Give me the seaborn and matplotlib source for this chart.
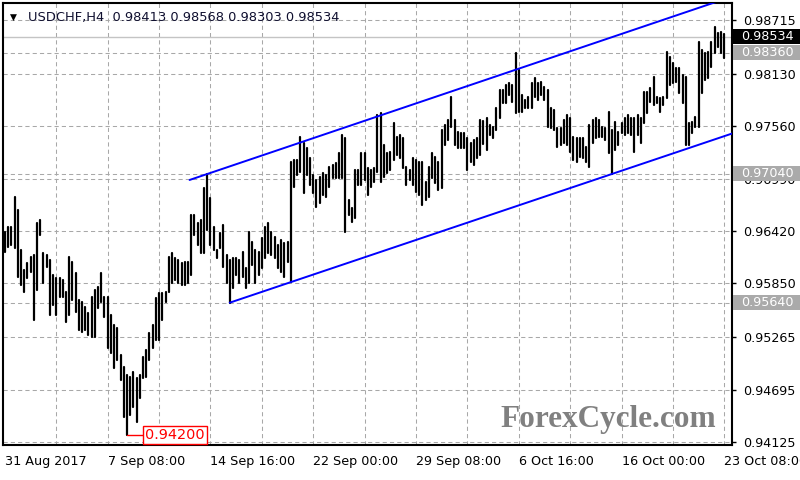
import numpy as np
import pandas as pd
import matplotlib
matplotlib.use("Agg")
import matplotlib.pyplot as plt
import matplotlib.transforms as mtransforms
from matplotlib.patches import Rectangle
import seaborn as sns

# USDCHF H4 bars (31 Aug 2017 00:00 -> 23 Oct 08:00), highs and lows
highs = [
    0.96413, 0.96467, 0.96467, 0.96794, 0.96649, 0.96213, 0.95996, 0.96068, 0.96141, 0.96159,
    0.96503, 0.96540, 0.96177, 0.96159, 0.96105, 0.95942, 0.95905, 0.95905, 0.95887, 0.95760,
    0.96141, 0.96087, 0.95960, 0.95670, 0.95652, 0.95597, 0.95524, 0.95706, 0.95778, 0.95815,
    0.95960, 0.95706, 0.95706, 0.95506, 0.95398, 0.95361, 0.95071, 0.94944, 0.94854, 0.94836,
    0.94890, 0.94817, 0.94854, 0.95053, 0.95126, 0.95307, 0.95398, 0.95688, 0.95742, 0.95742,
    0.95760, 0.96141, 0.96177, 0.96123, 0.96105, 0.96068, 0.96087, 0.96087, 0.96594, 0.96594,
    0.96503, 0.96540, 0.96884, 0.97040, 0.96775, 0.96467, 0.96213, 0.96395, 0.96485, 0.96159,
    0.96105, 0.96123, 0.96123, 0.96105, 0.96195, 0.96013, 0.96412, 0.96303, 0.96213, 0.96195,
    0.96340, 0.96467, 0.96503, 0.96412, 0.96358, 0.96267, 0.96322, 0.96285, 0.96303, 0.97174,
    0.97192, 0.97192, 0.97446, 0.97373, 0.97319, 0.97210, 0.97029, 0.96974, 0.97010, 0.97047,
    0.97029, 0.97119, 0.97137, 0.97155, 0.97264, 0.97464, 0.97427, 0.96757, 0.96666, 0.97083,
    0.97083, 0.97264, 0.97264, 0.97101, 0.97083, 0.97101, 0.97681, 0.97699, 0.97355, 0.97264,
    0.97282, 0.97591, 0.97446, 0.97464, 0.97427, 0.97119, 0.97083, 0.97210, 0.97192, 0.97174,
    0.97174, 0.96956, 0.97119, 0.97264, 0.97228, 0.97174, 0.97518, 0.97572, 0.97627, 0.97878,
    0.97627, 0.97500, 0.97482, 0.97482, 0.97427, 0.97373, 0.97409, 0.97427, 0.97627, 0.97620,
    0.97645, 0.97573, 0.97555, 0.97754, 0.97954, 0.97954, 0.98008, 0.98026, 0.98008, 0.98360,
    0.98171, 0.97899, 0.97845, 0.97881, 0.98026, 0.98080, 0.98026, 0.98044, 0.97990, 0.97954,
    0.97754, 0.97736, 0.97537, 0.97537, 0.97627, 0.97682, 0.97645, 0.97446, 0.97428, 0.97428,
    0.97428, 0.97337, 0.97573, 0.97627, 0.97645, 0.97627, 0.97555, 0.97537, 0.97718, 0.97519,
    0.97609, 0.97500, 0.97591, 0.97645, 0.97682, 0.97645, 0.97645, 0.97682, 0.97645, 0.97935,
    0.97935, 0.97972, 0.98099, 0.97881, 0.97863, 0.97881, 0.98371, 0.98316, 0.98244, 0.98189,
    0.98189, 0.98117, 0.98099, 0.97591, 0.97609, 0.97664, 0.98479, 0.98389, 0.98352, 0.98371,
    0.98479, 0.98642, 0.98570, 0.98588, 0.98568,
]
lows = [
    0.96188, 0.96250, 0.96268, 0.96232, 0.95923, 0.95833, 0.95760, 0.95905, 0.95978, 0.95452,
    0.95778, 0.96377, 0.95851, 0.96032, 0.95506, 0.95615, 0.95506, 0.95706, 0.95706, 0.95434,
    0.95506, 0.95670, 0.95543, 0.95343, 0.95325, 0.95343, 0.95289, 0.95271, 0.95271, 0.95579,
    0.95652, 0.95488, 0.95144, 0.95090, 0.94926, 0.95017, 0.94799, 0.94401, 0.94200, 0.94419,
    0.94509, 0.94346, 0.94600, 0.94817, 0.94836, 0.95017, 0.95144, 0.95235, 0.95235, 0.95452,
    0.95652, 0.95760, 0.95851, 0.95887, 0.95851, 0.95833, 0.95833, 0.95851, 0.95942, 0.96377,
    0.96268, 0.96177, 0.96177, 0.96431, 0.96268, 0.96213, 0.96123, 0.96232, 0.96032, 0.95851,
    0.95640, 0.95797, 0.95942, 0.95851, 0.95923, 0.95796, 0.95850, 0.96050, 0.95850, 0.95941,
    0.96013, 0.96122, 0.96177, 0.96158, 0.96122, 0.96013, 0.95977, 0.95923, 0.96086, 0.95868,
    0.96902, 0.97029, 0.97065, 0.96829, 0.97029, 0.96920, 0.96829, 0.96684, 0.96720, 0.96811,
    0.96793, 0.96902, 0.96992, 0.96992, 0.96992, 0.96992, 0.96412, 0.96594, 0.96521, 0.96557,
    0.96920, 0.96920, 0.96974, 0.96811, 0.96902, 0.96956, 0.97065, 0.96956, 0.97010, 0.97047,
    0.97083, 0.97192, 0.97246, 0.97210, 0.97101, 0.96920, 0.96974, 0.96920, 0.96847, 0.96811,
    0.96702, 0.96757, 0.96793, 0.96992, 0.96938, 0.96865, 0.96884, 0.97355, 0.97409, 0.97554,
    0.97355, 0.97319, 0.97319, 0.97319, 0.97083, 0.97174, 0.97137, 0.97210, 0.97250, 0.97370,
    0.97301, 0.97464, 0.97428, 0.97519, 0.97645, 0.97809, 0.97809, 0.97899, 0.97827, 0.97700,
    0.97718, 0.97718, 0.97754, 0.97754, 0.97754, 0.97881, 0.97845, 0.97899, 0.97845, 0.97555,
    0.97537, 0.97519, 0.97337, 0.97355, 0.97373, 0.97355, 0.97283, 0.97192, 0.97174, 0.97228,
    0.97210, 0.97174, 0.97120, 0.97373, 0.97428, 0.97446, 0.97446, 0.97410, 0.97265, 0.97040,
    0.97301, 0.97355, 0.97482, 0.97464, 0.97482, 0.97464, 0.97283, 0.97464, 0.97373, 0.97591,
    0.97700, 0.97827, 0.97790, 0.97809, 0.97718, 0.97790, 0.97863, 0.98008, 0.98026, 0.98044,
    0.97917, 0.97809, 0.97355, 0.97355, 0.97482, 0.97555, 0.97555, 0.97917, 0.98062, 0.98080,
    0.98207, 0.98352, 0.98425, 0.98352, 0.98303,
]

last_ohlc = [0.98413, 0.98568, 0.98303, 0.98534]
date_labels = ["31 Aug 2017", "7 Sep 08:00", "14 Sep 16:00", "22 Sep 00:00",
               "29 Sep 08:00", "6 Oct 16:00", "16 Oct 00:00", "23 Oct 08:00"]
date_bars = [0, 32, 64, 96, 128, 160, 192, 224]
price_ticks = [0.98715, 0.98130, 0.97560, 0.96990, 0.96420, 0.95850, 0.95265, 0.94695, 0.94125]
levels = [0.98360, 0.97040, 0.95640]
low_price = 0.94200
low_bar = 38
# channel lines: start bar and two anchor points (bar, price)
upper_start = 57.5
upper_bars = [63, 148]
upper_prices = [0.97040, 0.98044]
lower_bars = [70, 189]
lower_prices = [0.95640, 0.97040]

n = len(highs)
bars = pd.DataFrame({"bar": list(range(n)) * 2, "price": highs + lows})

sns.set_theme(style="white")
plt.rcParams["font.family"] = ["DejaVu Sans"]

fig = plt.figure(figsize=(8, 4.8), dpi=100)
ax = fig.add_axes([3 / 800, 35 / 480, 728.7 / 800, 442 / 480])

x_lo, x_hi = -0.6, 226.3
y_lo, y_hi = 0.94092, 0.98900

grid_kw = dict(color="#a8a8a8", lw=0.75, ls=(0, (4, 3)), zorder=1)
for p in price_ticks:
    ax.axhline(p, **grid_kw)
for b in range(16, 225, 16):
    ax.axvline(b, **grid_kw)
for p in levels:
    ax.axhline(p, **grid_kw)
ax.axhline(last_ohlc[3], color="#c4c4c4", lw=1, zorder=1)

ax.text(0.682, 0.057, "ForexCycle.com", transform=ax.transAxes, fontsize=22.5,
        family="Liberation Serif", weight="bold", color="#808080", va="center", zorder=1.5)

# each bar is a high-low segment
sns.lineplot(data=bars, x="bar", y="price", units="bar", estimator=None,
             color="black", lw=1.6, ax=ax, legend=False, zorder=3)

# channel
slope_u = (upper_prices[1] - upper_prices[0]) / (upper_bars[1] - upper_bars[0])
slope_l = (lower_prices[1] - lower_prices[0]) / (lower_bars[1] - lower_bars[0])
ux = np.array([upper_start, x_hi + 5])
lx = np.array([lower_bars[0], x_hi + 5])
ax.plot(ux, upper_prices[0] + slope_u * (ux - upper_bars[0]), color="#0000ff", lw=1.4, zorder=4)
ax.plot(lx, lower_prices[0] + slope_l * (lx - lower_bars[0]), color="#0000ff", lw=1.4, zorder=4)

# low marker
ax.plot([low_bar, low_bar + 5.3], [low_price, low_price], color="red", lw=1, zorder=4)
ax.text(low_bar + 5.6, low_price, f"{low_price:.5f}", color="red", fontsize=10.4,
        va="center", ha="left", zorder=5,
        bbox=dict(boxstyle="square,pad=0.15", fc="white", ec="red", lw=1))

ax.set_xlabel("")
ax.set_ylabel("")
ax.set_xticks(date_bars)
ax.set_xticklabels(date_labels, ha="left", fontsize=9.2)
ax.yaxis.tick_right()
ax.set_yticks(price_ticks)
ax.set_yticklabels([f"{p:.5f}" for p in price_ticks], fontsize=9.2)
ax.tick_params(axis="both", direction="out", length=3, width=1, color="black",
               labelcolor="black")
ax.tick_params(axis="x", pad=4)
ax.tick_params(axis="y", pad=5)
for s in ax.spines.values():
    s.set_color("black")
    s.set_linewidth(1.5)

# price labels on the right axis
tr = mtransforms.blended_transform_factory(fig.transFigure, ax.transData)
box_h = 15 * (y_hi - y_lo) / 442
for p, fc in [(last_ohlc[3], "black")] + [(lv, "#aaaaaa") for lv in levels]:
    ax.add_patch(Rectangle((733 / 800, p - box_h / 2), 67 / 800, box_h, transform=tr,
                           facecolor=fc, edgecolor="none", clip_on=False, zorder=6))
    ax.text(741 / 800, p, f"{p:.5f}", transform=tr, color="white", fontsize=9.2,
            va="center", ha="left", zorder=7, clip_on=False)
ax.set_xlim(x_lo, x_hi)
ax.set_ylim(y_lo, y_hi)

title = "USDCHF,H4  " + " ".join(f"{v:.5f}" for v in last_ohlc)
fig.text(10 / 800, 1 - 17 / 480, "\u25bc", fontsize=6.5, va="center", ha="left", color="black")
fig.text(28 / 800, 1 - 17 / 480, title, fontsize=9.4, va="center", ha="left", color="#101030")

fig.savefig("out.png", dpi=100)
